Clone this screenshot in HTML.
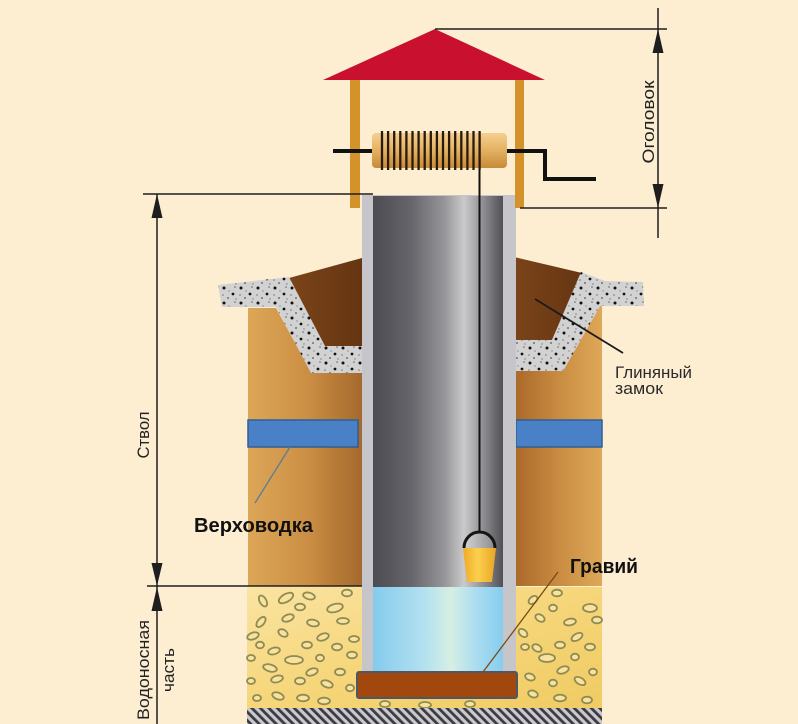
<!DOCTYPE html>
<html><head><meta charset="utf-8">
<style>html,body{margin:0;padding:0;background:#fdeed2;width:798px;height:724px;overflow:hidden}svg{display:block}</style>
</head>
<body>
<svg width="798" height="724" viewBox="0 0 798 724" xmlns="http://www.w3.org/2000/svg" font-family="'Liberation Sans', sans-serif">
<defs>
 <linearGradient id="soilL" x1="0" x2="1" y1="0" y2="0"><stop offset="0" stop-color="#dda657"/><stop offset="0.5" stop-color="#cc9045"/><stop offset="1" stop-color="#a5692d"/></linearGradient>
 <linearGradient id="soilR" x1="0" x2="1" y1="0" y2="0"><stop offset="0" stop-color="#ab692b"/><stop offset="0.5" stop-color="#c98c42"/><stop offset="1" stop-color="#dea858"/></linearGradient>
 <linearGradient id="clay" x1="0" x2="1" y1="0" y2="0"><stop offset="0" stop-color="#7b4419"/><stop offset="1" stop-color="#653512"/></linearGradient>
 <pattern id="conc" width="17" height="15" patternUnits="userSpaceOnUse">
   <rect width="17" height="15" fill="#d2d2d2"/>
   <circle cx="3" cy="3" r="1.5" fill="#111"/>
   <circle cx="12" cy="9" r="1.4" fill="#111"/>
   <circle cx="7" cy="13" r="0.9" fill="#555"/>
   <circle cx="14" cy="2" r="0.8" fill="#666"/>
   <circle cx="2" cy="10" r="0.8" fill="#777"/>
   <circle cx="8" cy="6" r="0.7" fill="#888"/>
   <circle cx="15" cy="14" r="0.7" fill="#777"/>
 </pattern>
 <pattern id="hatch" width="6" height="6" patternUnits="userSpaceOnUse" patternTransform="rotate(-45)">
   <rect width="6" height="6" fill="#c9c9cf"/>
   <rect width="2.8" height="6" fill="#3c3c40"/>
 </pattern>
 <linearGradient id="shaft" x1="0" x2="1" y1="0" y2="0">
   <stop offset="0" stop-color="#4b4b51"/><stop offset="0.3" stop-color="#66666c"/><stop offset="0.55" stop-color="#96969a"/><stop offset="0.7" stop-color="#cacacb"/><stop offset="0.82" stop-color="#9a9a9e"/><stop offset="1" stop-color="#4f4f55"/>
 </linearGradient>
 <linearGradient id="water" x1="0" x2="1" y1="0" y2="0">
   <stop offset="0" stop-color="#84cbed"/><stop offset="0.4" stop-color="#b4e1ef"/><stop offset="0.6" stop-color="#d6efe4"/><stop offset="0.8" stop-color="#a9dcf0"/><stop offset="1" stop-color="#86cdee"/>
 </linearGradient>
 <linearGradient id="sand" x1="0" y1="0" x2="1" y2="1">
   <stop offset="0" stop-color="#fae4a2"/><stop offset="0.5" stop-color="#f6d67a"/><stop offset="1" stop-color="#f0cb62"/>
 </linearGradient>
 <linearGradient id="drum" x1="0" y1="0" x2="0" y2="1">
   <stop offset="0" stop-color="#f4d08e"/><stop offset="0.45" stop-color="#e6b466"/><stop offset="1" stop-color="#c78a38"/>
 </linearGradient>
 <linearGradient id="bucket" x1="0" x2="1" y1="0" y2="0">
   <stop offset="0" stop-color="#f0aa28"/><stop offset="0.45" stop-color="#fbd04e"/><stop offset="1" stop-color="#e9a424"/>
 </linearGradient>
 <linearGradient id="bhandle" x1="0" x2="1" y1="0" y2="0">
   <stop offset="0" stop-color="#d4d4d4"/><stop offset="1" stop-color="#8c8c90"/>
 </linearGradient>
</defs>

<rect width="798" height="724" fill="#fdeed2"/>

<!-- soil blocks -->
<polygon points="248,308 276,308 311,372 362,372 362,586 248,586" fill="url(#soilL)"/>
<polygon points="516,371 563,371 600,306 602,306 602,586 516,586" fill="url(#soilR)"/>

<!-- clay -->
<polygon points="289,278 362,258 362,347 325,347" fill="url(#clay)"/>
<polygon points="514,257 582,273 552,340 514,340" fill="url(#clay)"/>

<!-- concrete blind area -->
<polygon points="218,285 289,277 325,346 362,346 362,373 311,373 276,307 222,307" fill="url(#conc)"/>
<polygon points="514,340 552,340 581,272 605,281 643,282 644,306 600,306 563,371 514,371" fill="url(#conc)"/>

<!-- perched water -->
<rect x="248" y="420" width="110" height="27" fill="#4a80c6" stroke="#2e5f96" stroke-width="1.5"/>
<rect x="516" y="420" width="86" height="27" fill="#4a80c6" stroke="#2e5f96" stroke-width="1.5"/>

<!-- sand -->
<rect x="247" y="587" width="355" height="121" fill="url(#sand)"/>
<g fill="#f9e39c" stroke="#8f8b55" stroke-width="1.8">
 <ellipse cx="263" cy="601" rx="6" ry="3.3" transform="rotate(60 263 601)"/>
 <ellipse cx="286" cy="598" rx="8" ry="4" transform="rotate(-30 286 598)"/>
 <ellipse cx="309" cy="596" rx="6" ry="3.3" transform="rotate(15 309 596)"/>
 <ellipse cx="347" cy="593" rx="5" ry="3.3"/>
 <ellipse cx="300" cy="607" rx="5" ry="3.3"/>
 <ellipse cx="335" cy="608" rx="8" ry="4" transform="rotate(-15 335 608)"/>
 <ellipse cx="261" cy="622" rx="6" ry="3.3" transform="rotate(-50 261 622)"/>
 <ellipse cx="288" cy="618" rx="6" ry="3.3" transform="rotate(-20 288 618)"/>
 <ellipse cx="313" cy="623" rx="6" ry="3.3" transform="rotate(10 313 623)"/>
 <ellipse cx="343" cy="621" rx="6" ry="3"/>
 <ellipse cx="253" cy="636" rx="6" ry="3.3" transform="rotate(-20 253 636)"/>
 <ellipse cx="283" cy="633" rx="5" ry="3.3" transform="rotate(30 283 633)"/>
 <ellipse cx="323" cy="637" rx="6" ry="3.3" transform="rotate(-20 323 637)"/>
 <ellipse cx="354" cy="639" rx="5" ry="3"/>
 <ellipse cx="260" cy="645" rx="4" ry="3.3"/>
 <ellipse cx="274" cy="651" rx="6" ry="3.3" transform="rotate(-15 274 651)"/>
 <ellipse cx="307" cy="645" rx="5" ry="3.3"/>
 <ellipse cx="337" cy="647" rx="5" ry="3.3"/>
 <ellipse cx="294" cy="660" rx="9" ry="4"/>
 <ellipse cx="320" cy="658" rx="4" ry="3.3"/>
 <ellipse cx="352" cy="655" rx="5" ry="3.3"/>
 <ellipse cx="251" cy="658" rx="4" ry="3"/>
 <ellipse cx="270" cy="668" rx="7" ry="3.5" transform="rotate(15 270 668)"/>
 <ellipse cx="312" cy="672" rx="6" ry="3.3" transform="rotate(-20 312 672)"/>
 <ellipse cx="340" cy="672" rx="5" ry="3.3"/>
 <ellipse cx="251" cy="681" rx="4" ry="3"/>
 <ellipse cx="277" cy="679" rx="6" ry="3.3" transform="rotate(-15 277 679)"/>
 <ellipse cx="300" cy="681" rx="5" ry="3.3"/>
 <ellipse cx="327" cy="684" rx="6" ry="3.3" transform="rotate(20 327 684)"/>
 <ellipse cx="350" cy="688" rx="4" ry="3.3"/>
 <ellipse cx="257" cy="698" rx="4" ry="3"/>
 <ellipse cx="278" cy="696" rx="6" ry="3.3" transform="rotate(20 278 696)"/>
 <ellipse cx="303" cy="698" rx="6" ry="3.3"/>
 <ellipse cx="324" cy="701" rx="6" ry="3.3"/>
 <ellipse cx="533" cy="600" rx="5" ry="3.3" transform="rotate(-40 533 600)"/>
 <ellipse cx="557" cy="593" rx="5" ry="3.3"/>
 <ellipse cx="590" cy="608" rx="7" ry="4"/>
 <ellipse cx="553" cy="608" rx="4" ry="3.3"/>
 <ellipse cx="570" cy="622" rx="6" ry="3.3" transform="rotate(-10 570 622)"/>
 <ellipse cx="540" cy="618" rx="5" ry="3.3" transform="rotate(30 540 618)"/>
 <ellipse cx="597" cy="620" rx="5" ry="3.3"/>
 <ellipse cx="523" cy="633" rx="5" ry="3.3" transform="rotate(40 523 633)"/>
 <ellipse cx="577" cy="637" rx="6" ry="3.3" transform="rotate(-30 577 637)"/>
 <ellipse cx="560" cy="645" rx="5" ry="3.3"/>
 <ellipse cx="590" cy="647" rx="5" ry="3.3"/>
 <ellipse cx="537" cy="648" rx="5" ry="3.3" transform="rotate(30 537 648)"/>
 <ellipse cx="547" cy="658" rx="8" ry="4"/>
 <ellipse cx="575" cy="657" rx="4" ry="3.3"/>
 <ellipse cx="525" cy="647" rx="4" ry="3"/>
 <ellipse cx="563" cy="670" rx="6" ry="3.3" transform="rotate(-20 563 670)"/>
 <ellipse cx="593" cy="672" rx="4" ry="3.3"/>
 <ellipse cx="530" cy="677" rx="5" ry="3.3" transform="rotate(20 530 677)"/>
 <ellipse cx="580" cy="681" rx="6" ry="3.3" transform="rotate(30 580 681)"/>
 <ellipse cx="553" cy="683" rx="4" ry="3.3"/>
 <ellipse cx="533" cy="694" rx="5" ry="3.3" transform="rotate(20 533 694)"/>
 <ellipse cx="560" cy="698" rx="6" ry="3.3"/>
 <ellipse cx="587" cy="700" rx="5" ry="3.3"/>
 <ellipse cx="385" cy="704" rx="5" ry="3"/>
 <ellipse cx="425" cy="705" rx="6" ry="3"/>
 <ellipse cx="470" cy="704" rx="5" ry="3"/>
</g>

<!-- hatch bedrock -->
<rect x="247" y="708" width="355" height="16" fill="url(#hatch)"/>

<!-- shaft -->
<rect x="362" y="195" width="154" height="477" fill="#c6c6ca"/>
<rect x="373" y="196" width="130" height="391" fill="url(#shaft)"/>
<rect x="373" y="587" width="130" height="85" fill="url(#water)"/>

<!-- gravel pad -->
<rect x="357" y="672" width="160" height="26" rx="2" fill="#a2480e" stroke="#4d5866" stroke-width="2"/>

<!-- boundary line -->
<line x1="147" y1="586" x2="362" y2="586" stroke="#1e1e1e" stroke-width="1.5"/>

<!-- rope & bucket -->
<line x1="479.5" y1="168" x2="479.5" y2="533" stroke="#111" stroke-width="2"/>
<path d="M464,548 A15.5,16 0 0 1 495,548 Z" fill="url(#bhandle)"/>
<path d="M464,548 A15.5,16 0 0 1 495,548" fill="none" stroke="#151515" stroke-width="3"/>
<polygon points="463,548 496,548 492,582 467,582" fill="url(#bucket)"/>

<!-- posts -->
<rect x="350" y="80" width="10" height="128" fill="#d4922a"/>
<rect x="515" y="80" width="9" height="128" fill="#d4922a"/>

<!-- roof -->
<polygon points="435,29 545,80 323,80" fill="#c9112f"/>

<!-- winch -->
<rect x="372" y="133" width="135" height="35" rx="4" fill="url(#drum)"/>
<g stroke="#2a1a0c" stroke-width="2.3">
 <line x1="382" y1="131" x2="382" y2="170"/>
 <line x1="388.1" y1="131" x2="388.1" y2="170"/>
 <line x1="394.2" y1="131" x2="394.2" y2="170"/>
 <line x1="400.3" y1="131" x2="400.3" y2="170"/>
 <line x1="406.4" y1="131" x2="406.4" y2="170"/>
 <line x1="412.5" y1="131" x2="412.5" y2="170"/>
 <line x1="418.6" y1="131" x2="418.6" y2="170"/>
 <line x1="424.7" y1="131" x2="424.7" y2="170"/>
 <line x1="430.8" y1="131" x2="430.8" y2="170"/>
 <line x1="436.9" y1="131" x2="436.9" y2="170"/>
 <line x1="443" y1="131" x2="443" y2="170"/>
 <line x1="449.1" y1="131" x2="449.1" y2="170"/>
 <line x1="455.2" y1="131" x2="455.2" y2="170"/>
 <line x1="461.3" y1="131" x2="461.3" y2="170"/>
 <line x1="467.4" y1="131" x2="467.4" y2="170"/>
 <line x1="473.5" y1="131" x2="473.5" y2="170"/>
 <line x1="479.6" y1="131" x2="479.6" y2="170"/>
</g>
<line x1="333" y1="151" x2="372" y2="151" stroke="#111" stroke-width="4"/>
<polyline points="507,151 545,151 545,179 596,179" fill="none" stroke="#111" stroke-width="4"/>

<!-- right dimension -->
<g stroke="#1e1e1e" stroke-width="1.5" fill="none">
 <line x1="435" y1="29" x2="667" y2="29"/>
 <line x1="520" y1="208" x2="667" y2="208"/>
 <line x1="658" y1="8" x2="658" y2="238"/>
 <line x1="143" y1="194" x2="373" y2="194"/>
 <line x1="157" y1="194" x2="157" y2="724"/>
</g>
<g fill="#1e1e1e">
 <polygon points="658,29 652.5,53 663.5,53"/>
 <polygon points="658,208 652.5,184 663.5,184"/>
 <polygon points="157,194 151.5,218 162.5,218"/>
 <polygon points="157,586 151.5,563 162.5,563"/>
 <polygon points="157,587 151.5,611 162.5,611"/>
</g>

<!-- rotated labels -->
<g fill="#222" font-size="17">
 <text transform="translate(654,122) rotate(-90)" text-anchor="middle" textLength="83" lengthAdjust="spacingAndGlyphs">Оголовок</text>
 <text transform="translate(149,435) rotate(-90)" text-anchor="middle" textLength="47" lengthAdjust="spacingAndGlyphs">Ствол</text>
 <text transform="translate(149,670) rotate(-90)" text-anchor="middle" textLength="100" lengthAdjust="spacingAndGlyphs">Водоносная</text>
 <text transform="translate(174,670) rotate(-90)" text-anchor="middle" textLength="44" lengthAdjust="spacingAndGlyphs">часть</text>
</g>

<!-- leader lines -->
<line x1="535" y1="299" x2="623" y2="353" stroke="#1a1a1a" stroke-width="1.8"/>
<line x1="290" y1="447" x2="255" y2="503" stroke="#5b7c99" stroke-width="1.3"/>
<line x1="558" y1="572" x2="483" y2="672" stroke="#7a4a14" stroke-width="1.3"/>

<!-- labels -->
<g fill="#2a2a2a" font-size="17">
 <text x="615" y="378" textLength="77" lengthAdjust="spacingAndGlyphs">Глиняный</text>
 <text x="615" y="394" textLength="48" lengthAdjust="spacingAndGlyphs">замок</text>
</g>
<g fill="#111" font-size="20" font-weight="bold">
 <text x="194" y="532" textLength="119" lengthAdjust="spacingAndGlyphs">Верховодка</text>
 <text x="570" y="573" textLength="68" lengthAdjust="spacingAndGlyphs">Гравий</text>
</g>
</svg>
</body>
</html>
